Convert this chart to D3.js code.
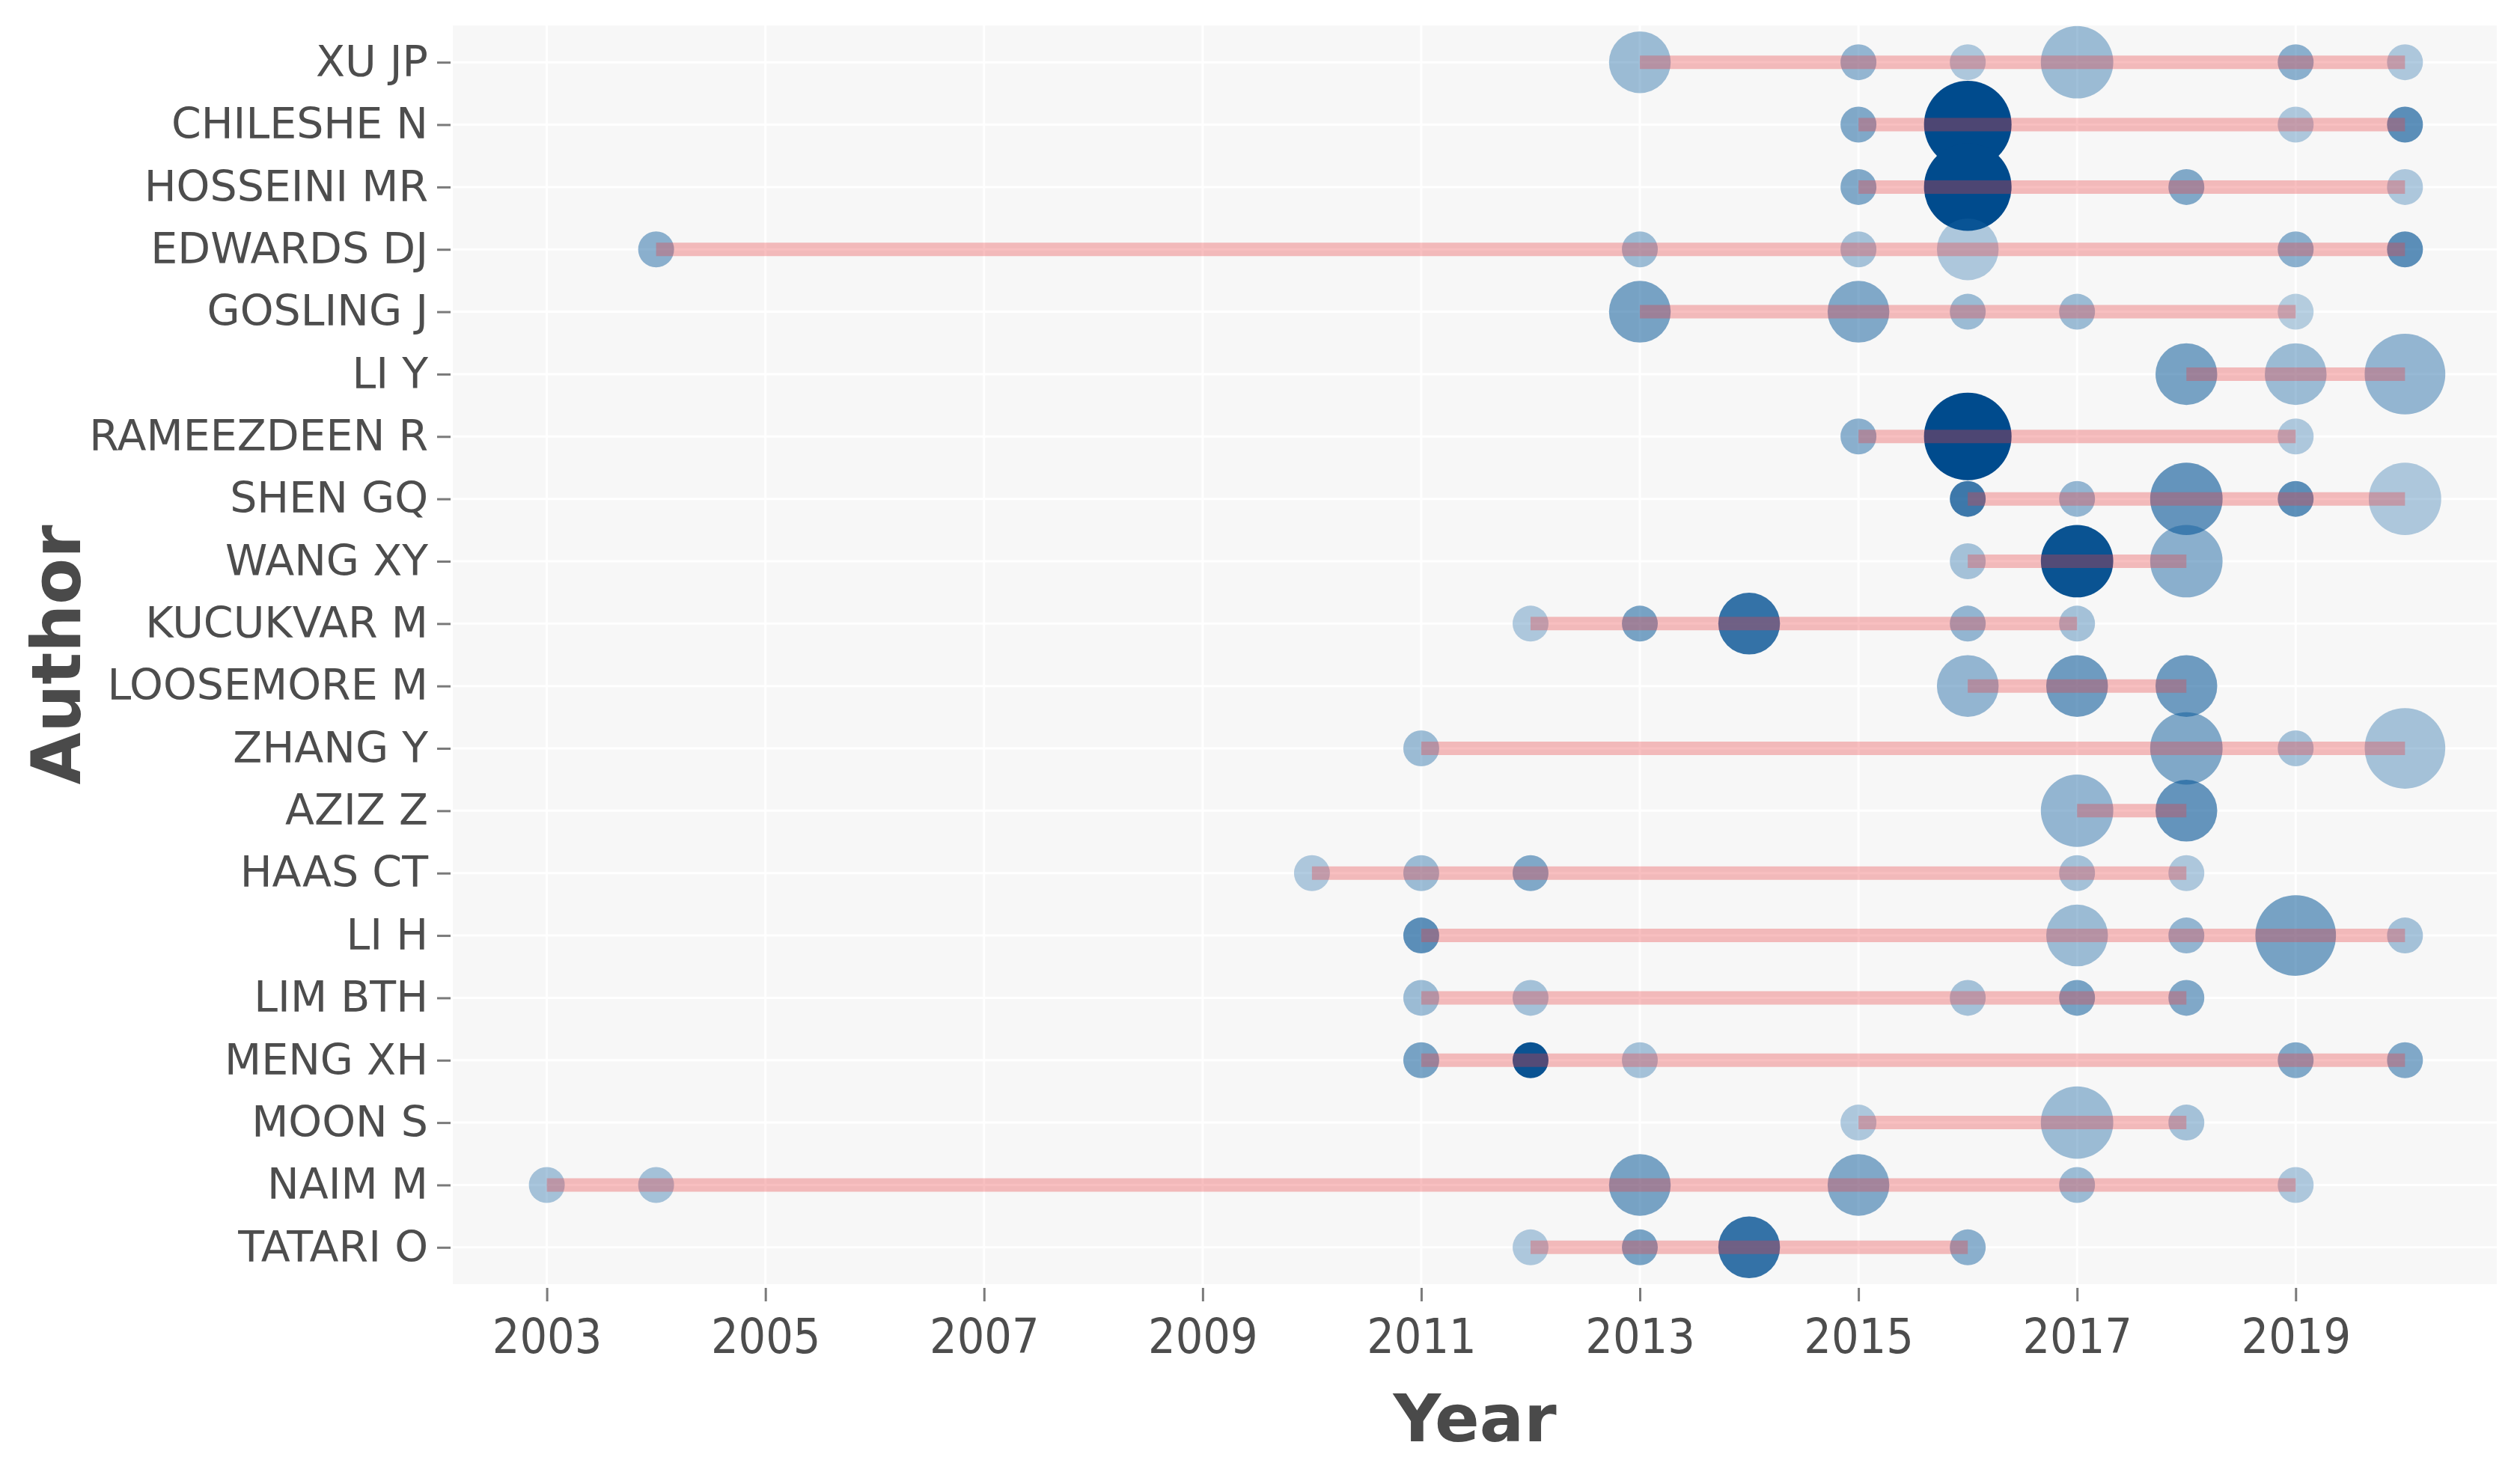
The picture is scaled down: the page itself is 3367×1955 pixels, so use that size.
<!DOCTYPE html>
<html>
<head>
<meta charset="utf-8">
<script src="https://cdn.jsdelivr.net/npm/d3@7"></script>
<style>
  body { margin: 0; background: #ffffff; }
  svg { display: block; }
</style>
</head>
<body>
<div id="chart"></div>
<script>
// Authors, top to bottom
var authors = ["XU JP", "CHILESHE N", "HOSSEINI MR", "EDWARDS DJ", "GOSLING J", "LI Y",
    "RAMEEZDEEN R", "SHEN GQ", "WANG XY", "KUCUKVAR M", "LOOSEMORE M", "ZHANG Y", "AZIZ Z",
    "HAAS CT", "LI H", "LIM BTH", "MENG XH", "MOON S", "NAIM M", "TATARI O"];

// years of production per author (same order as authors)
var years = [
    [2013, 2015, 2016, 2017, 2019, 2020],
    [2015, 2016, 2019, 2020],
    [2015, 2016, 2018, 2020],
    [2004, 2013, 2015, 2016, 2019, 2020],
    [2013, 2015, 2016, 2017, 2019],
    [2018, 2019, 2020],
    [2015, 2016, 2019],
    [2016, 2017, 2018, 2019, 2020],
    [2016, 2017, 2018],
    [2012, 2013, 2014, 2016, 2017],
    [2016, 2017, 2018],
    [2011, 2018, 2019, 2020],
    [2017, 2018],
    [2010, 2011, 2012, 2017, 2018],
    [2011, 2017, 2018, 2019, 2020],
    [2011, 2012, 2016, 2017, 2018],
    [2011, 2012, 2013, 2019, 2020],
    [2015, 2017, 2018],
    [2003, 2004, 2013, 2015, 2017, 2019],
    [2012, 2013, 2014, 2016]
];

// number of articles for each year above
var articles = [
    [2, 1, 1, 3, 1, 1],
    [1, 5, 1, 1],
    [1, 5, 1, 1],
    [1, 1, 1, 2, 1, 1],
    [2, 2, 1, 1, 1],
    [2, 2, 4],
    [1, 5, 1],
    [1, 1, 3, 1, 3],
    [1, 3, 3],
    [1, 1, 2, 1, 1],
    [2, 2, 2],
    [1, 3, 1, 4],
    [3, 2],
    [1, 1, 1, 1, 1],
    [1, 2, 1, 4, 1],
    [1, 1, 1, 1, 1],
    [1, 1, 1, 1, 1],
    [1, 3, 1],
    [1, 1, 2, 2, 1, 1],
    [1, 1, 2, 1]
];

// total citations per year (estimated)
var tcPerYear = [
    [4, 5, 2, 4, 6, 2],
    [7, 20, 2, 11],
    [7, 20, 7, 2],
    [6, 4, 3, 2, 6, 11],
    [8, 7, 4, 4, 1],
    [8, 4, 5],
    [6, 20, 2],
    [14, 5, 10, 11, 2],
    [3, 19, 6],
    [2, 8, 15, 5, 3],
    [5, 9, 9],
    [4, 7, 3, 3],
    [5, 10],
    [2, 4, 7, 3, 2],
    [11, 4, 5, 8, 3],
    [4, 3, 3, 8, 7],
    [8, 19, 3, 7, 7],
    [2, 4, 3],
    [3, 3, 8, 7, 4, 2],
    [2, 8, 15, 6]
];

var yearTicks = [2003, 2005, 2007, 2009, 2011, 2013, 2015, 2017, 2019];

// flatten into points
var points = [];
authors.forEach(function(a, i) {
    years[i].forEach(function(y, j) {
        points.push({ author: a, year: y, freq: articles[i][j], tc: tcPerYear[i][j] });
    });
});

var w = 3367;
var h = 1955;
var panel = { left: 605, right: 3336, top: 34, bottom: 1716 };

var svg = d3.select("#chart")
    .append("svg")
    .attr("width", w)
    .attr("height", h);

var xScale = d3.scaleLinear()
    .domain([2002.14, 2020.84])
    .range([panel.left, panel.right]);

var yScale = d3.scalePoint()
    .domain(authors)
    .range([panel.top, panel.bottom])
    .padding(0.59);

var rScale = d3.scaleSqrt()
    .domain([0, 4])
    .range([24, 58.5]);

var tcExtent = d3.extent(points, function(d) { return d.tc; });

var alphaScale = d3.scaleLinear()
    .domain(tcExtent)
    .range([0.3, 1]);

var colorScale = d3.scaleLinear()
    .domain(tcExtent)
    .range(["#1c6aa6", "#004b8d"]);

// panel background
svg.append("rect")
    .attr("x", panel.left)
    .attr("y", panel.top)
    .attr("width", panel.right - panel.left)
    .attr("height", panel.bottom - panel.top)
    .style("fill", "#f7f7f7");

// grid
var grid = svg.append("g");
grid.selectAll("line.vg")
    .data(yearTicks)
    .enter()
    .append("line")
    .attr("x1", function(d) { return xScale(d); })
    .attr("x2", function(d) { return xScale(d); })
    .attr("y1", panel.top)
    .attr("y2", panel.bottom)
    .style("stroke", "#ffffff")
    .style("stroke-width", 3);
grid.selectAll("line.hg")
    .data(authors)
    .enter()
    .append("line")
    .attr("x1", panel.left)
    .attr("x2", panel.right)
    .attr("y1", function(d) { return yScale(d); })
    .attr("y2", function(d) { return yScale(d); })
    .style("stroke", "#ffffff")
    .style("stroke-width", 3);

// points
svg.append("g")
    .selectAll("circle")
    .data(points)
    .enter()
    .append("circle")
    .attr("cx", function(d) { return xScale(d.year); })
    .attr("cy", function(d) { return yScale(d.author); })
    .attr("r", function(d) { return rScale(d.freq - 1); })
    .style("fill", function(d) { return colorScale(d.tc); })
    .style("fill-opacity", function(d) { return alphaScale(d.tc); });

// span lines drawn over the points
svg.append("g")
    .selectAll("line")
    .data(authors)
    .enter()
    .append("line")
    .attr("x1", function(d, i) { return xScale(d3.min(years[i])); })
    .attr("x2", function(d, i) { return xScale(d3.max(years[i])); })
    .attr("y1", function(d) { return yScale(d); })
    .attr("y2", function(d) { return yScale(d); })
    .style("stroke", "rgb(235,60,65)")
    .style("stroke-opacity", 0.33)
    .style("stroke-width", 18);

// axes
var yAxis = d3.axisLeft(yScale).tickSize(18).tickPadding(12);
var gy = svg.append("g")
    .attr("transform", "translate(" + (panel.left - 3) + ",0)")
    .call(yAxis);
gy.select(".domain").remove();
gy.selectAll(".tick line").style("stroke", "#7a7a7a").style("stroke-width", 3);
gy.selectAll(".tick text")
    .style("font-family", "'DejaVu Sans', Verdana, sans-serif")
    .style("font-size", "57px")
    .style("fill", "#4d4d4d");

var xAxis = d3.axisBottom(xScale).tickValues(yearTicks).tickFormat(d3.format("d")).tickSize(18).tickPadding(24);
var gx = svg.append("g")
    .attr("transform", "translate(0," + (panel.bottom + 5) + ")")
    .call(xAxis);
gx.select(".domain").remove();
gx.selectAll(".tick line").style("stroke", "#7a7a7a").style("stroke-width", 3);
gx.selectAll(".tick text")
    .style("font-family", "'DejaVu Sans Condensed', 'DejaVu Sans', sans-serif")
    .style("font-stretch", "condensed")
    .style("font-size", "64px")
    .style("fill", "#4d4d4d");

// titles
svg.append("text")
    .attr("x", (panel.left + panel.right) / 2)
    .attr("y", 1926)
    .attr("text-anchor", "middle")
    .style("font-family", "'DejaVu Sans', Verdana, sans-serif")
    .style("font-weight", "bold")
    .style("font-size", "88px")
    .style("fill", "#4a4a4a")
    .text("Year");

svg.append("text")
    .attr("transform", "translate(107," + ((panel.top + panel.bottom) / 2) + ") rotate(-90)")
    .attr("text-anchor", "middle")
    .style("font-family", "'DejaVu Sans', Verdana, sans-serif")
    .style("font-weight", "bold")
    .style("font-size", "90px")
    .style("fill", "#4a4a4a")
    .text("Author");
</script>
</body>
</html>
